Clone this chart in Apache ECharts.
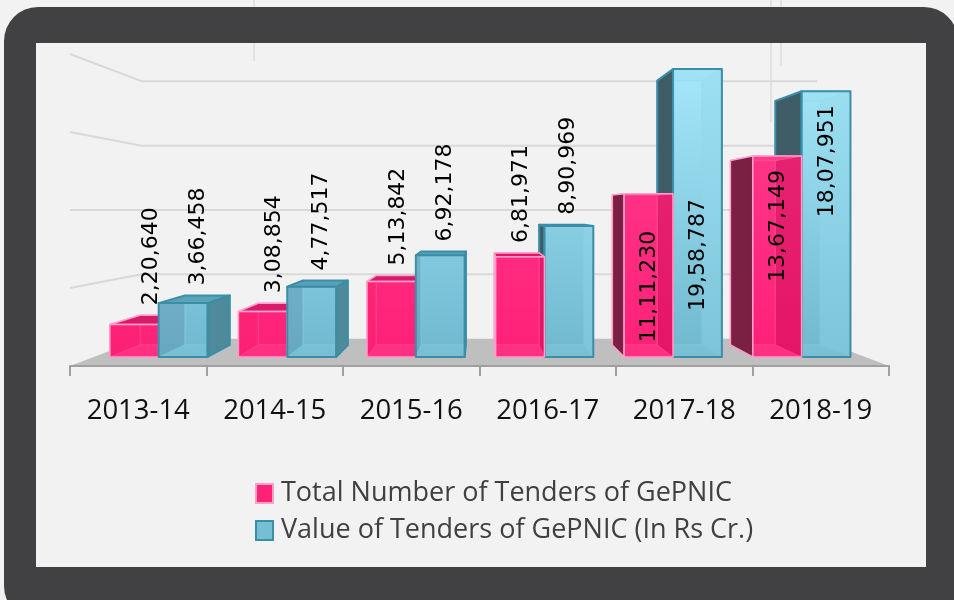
<!DOCTYPE html>
<html><head><meta charset="utf-8">
<script src="https://cdn.jsdelivr.net/npm/echarts@6/dist/echarts.min.js"></script>
<style>html,body{margin:0;padding:0;background:#f2f2f2}#c{width:954px;height:600px}</style>
</head><body><div id="c"></div>
<script>
// ---- data ----
const categories = ['2013-14', '2014-15', '2015-16', '2016-17', '2017-18', '2018-19'];
const tenderCounts = [220640, 308854, 513842, 681971, 1111230, 1367149];
const tenderValues = [366458, 477517, 692178, 890969, 1958787, 1807951];
const valueTicks = [0, 500000, 1000000, 1500000, 2000000];
const seriesNames = ['Total Number of Tenders of GePNIC', 'Value of Tenders of GePNIC (In Rs Cr.)'];

// ---- view / style constants ----
const HORIZON = 1000000;           // value whose gridline looks level (eye height)
const S_BAR_FRONT = 0.942, S_BAR_BACK = 0.865, S_WALL = 0.825;
const GAP = 0.125, BAR_W = 0.38;
const INSIDE_THRESHOLD = 1000000;
const labelNudge = [{4: 23}, {4: 116}];

function fmtIN(n) {
  const s = String(Math.round(n));
  if (s.length <= 3) return s;
  const last = s.slice(-3), rest = s.slice(0, -3);
  return rest.replace(/\B(?=(\d{2})+(?!\d))/g, ',') + ',' + last;
}

const PAL = [
  { frontTop: 'rgba(255,62,142,0.6)', frontBot: 'rgba(255,30,118,0.6)',
    backTop: '#ff3d8c', backBot: '#ff2379',
    hiddenL: '#f8226f', hiddenR: '#c0064f', hiddenB: '#ff4a90', hiddenT: '#ff4a90',
    sideL: '#7a2143', sideR: '#d3155f', top: '#d81a68',
    edge: '#ff9fcc', inner: 'rgba(255,110,165,0.9)', edgeW: 1.5, legend: '#ff2277' },
  { frontTop: 'rgba(166,232,251,0.6)', frontBot: 'rgba(111,184,206,0.6)',
    backTop: '#a6e8fb', backBot: '#6fb8ce',
    hiddenL: '#5e8fa6', hiddenR: '#92d6ea', hiddenB: '#86cadd', hiddenT: '#9adcef',
    sideL: '#3e5d66', sideR: '#4f8a9b', top: '#5aa2b6',
    edge: '#3a8ea8', inner: '#8fd2e5', edgeW: 2, legend: '#74bfd4' }
];

function poly(points, fill, stroke, lw, z2) {
  return { type: 'polygon', shape: { points }, style: { fill, stroke, lineWidth: lw, lineJoin: 'round' }, z2, silent: true };
}

function makeBarRender(k) {
  return function (params, api) {
    const i = api.value(0), v = api.value(1);
    const cs = params.coordSys;
    const vx = cs.x + cs.width / 2;
    const vy = api.coord([0, HORIZON])[1];
    const P = (x, y, s) => [vx + (x - vx) * s, vy + (y - vy) * s];
    const c = api.coord([i, v]), c0 = api.coord([i, 0]);
    const bw = api.size([1, 0])[0];
    const xl = c[0] - bw / 2 + bw * GAP + k * bw * BAR_W, xr = xl + bw * BAR_W;
    const yT = c[1], yB = c0[1];
    const fLT = P(xl, yT, S_BAR_FRONT), fRT = P(xr, yT, S_BAR_FRONT);
    const fLB = P(xl, yB, S_BAR_FRONT), fRB = P(xr, yB, S_BAR_FRONT);
    const bLT = P(xl, yT, S_BAR_BACK), bRT = P(xr, yT, S_BAR_BACK);
    const bLB = P(xl, yB, S_BAR_BACK), bRB = P(xr, yB, S_BAR_BACK);
    const pal = PAL[k];
    const gy0 = P(0, api.coord([0, valueTicks[valueTicks.length - 1]])[1], S_BAR_FRONT)[1];
    const gy1 = fLB[1];
    const grad = (a, b) => new echarts.graphic.LinearGradient(0, gy0, 0, gy1, [{ offset: 0, color: a }, { offset: 1, color: b }], true);
    const leftOfEye = xr <= vx, rightOfEye = xl >= vx;
    const topVisible = yT > vy;
    const first = c[0] < vx ? 0 : 1;
    const base = k === first ? 0 : 20;
    const leftSide = [fLT, bLT, bLB, fLB], rightSide = [fRT, bRT, bRB, fRB];
    const topFace = [fLT, fRT, bRT, bLT];
    const ch = [];
    ch.push(poly([bLT, bRT, bRB, bLB], grad(pal.backTop, pal.backBot), pal.inner, 1, base + 1));
    ch.push(poly([fLB, fRB, bRB, bLB], pal.hiddenB, pal.inner, 1, base + 2));
    if (!rightOfEye) ch.push(poly(leftSide, pal.hiddenL, pal.inner, 1, base + 3));
    if (!leftOfEye) ch.push(poly(rightSide, pal.hiddenR, pal.inner, 1, base + 3));
    if (!topVisible) ch.push(poly(topFace, pal.hiddenT, pal.inner, 1, base + 3));
    if (rightOfEye) ch.push(poly(leftSide, pal.sideL, pal.edge, pal.edgeW, base + 5));
    if (leftOfEye) ch.push(poly(rightSide, pal.sideR, pal.edge, pal.edgeW, base + 5));
    if (topVisible) ch.push(poly(topFace, pal.top, pal.edge, pal.edgeW, base + 6));
    ch.push(poly([fLT, fRT, fRB, fLB], grad(pal.frontTop, pal.frontBot), pal.edge, pal.edgeW, base + 7));
    // label
    let lx, ly, align;
    if (v > INSIDE_THRESHOLD) {
      lx = (fLT[0] + fRT[0]) / 2 + 1; ly = fLT[1] + 14 + (labelNudge[k][i] || 0); align = 'right';
    } else {
      lx = (fLT[0] + fRT[0] + bLT[0] + bRT[0]) / 4 + 3; ly = Math.min(fLT[1], bLT[1]) - 10; align = 'left';
    }
    ch.push({ type: 'text', x: lx, y: ly, rotation: Math.PI / 2, silent: true, z2: 100,
      style: { text: fmtIN(v), fill: '#000', fontSize: 22, fontFamily: 'DejaVu Sans', align, verticalAlign: 'middle' } });
    return { type: 'group', children: ch };
  };
}

function renderWall(params, api) {
  const v = api.value(1);
  const cs = params.coordSys;
  const vx = cs.x + cs.width / 2, vy = api.coord([0, HORIZON])[1];
  const P = (p, s) => [vx + (p[0] - vx) * s, vy + (p[1] - vy) * s];
  const y = api.coord([0, v])[1];
  const fl = [cs.x, y], fr = [cs.x + cs.width, y];
  const bl = P(fl, S_WALL), br = P(fr, S_WALL);
  if (v === 0) return { type: 'polygon', shape: { points: [fl, fr, br, bl] }, style: { fill: '#bfbfbf' }, silent: true };
  return { type: 'polyline', shape: { points: [fl, bl, br] }, style: { stroke: '#d9d9d9', lineWidth: 2, fill: null }, silent: true };
}

const chart = echarts.init(document.getElementById('c'), null, { renderer: 'canvas' });
const barData = [tenderCounts, tenderValues];
chart.setOption({
  animation: false,
  backgroundColor: '#f2f2f2',
  graphic: [
    { type: 'rect', z: -10, silent: true, shape: { x: 4, y: 7, width: 954, height: 613, r: 34 }, style: { fill: '#414143' } },
    { type: 'rect', z: -9, silent: true, shape: { x: 36, y: 43, width: 890, height: 524 }, style: { fill: '#f2f2f2' } },
    { type: 'line', z: -8, silent: true, shape: { x1: 254, y1: 0, x2: 254, y2: 7 }, style: { stroke: '#dcdcdc', lineWidth: 1.5 } },
    { type: 'line', z: -8, silent: true, shape: { x1: 254, y1: 43, x2: 254, y2: 61 }, style: { stroke: '#dcdcdc', lineWidth: 1.5 } },
    { type: 'line', z: -8, silent: true, shape: { x1: 771, y1: 0, x2: 771, y2: 7 }, style: { stroke: '#dcdcdc', lineWidth: 1.5 } },
    { type: 'line', z: -8, silent: true, shape: { x1: 771, y1: 43, x2: 771, y2: 122 }, style: { stroke: '#dcdcdc', lineWidth: 1.5 } },
    { type: 'line', z: -8, silent: true, shape: { x1: 781, y1: 0, x2: 781, y2: 7 }, style: { stroke: '#dcdcdc', lineWidth: 1.5 } },
    { type: 'line', z: -8, silent: true, shape: { x1: 781, y1: 43, x2: 781, y2: 66 }, style: { stroke: '#dcdcdc', lineWidth: 1.5 } }
  ],
  grid: { left: 70, right: 65, top: 54, bottom: 234 },
  xAxis: {
    type: 'category', data: categories, z: 5, boundaryGap: true,
    axisLine: { show: true, lineStyle: { color: '#a0a0a0', width: 2 } },
    axisTick: { show: true, interval: 0, alignWithLabel: false, inside: false, length: 10, lineStyle: { color: '#a0a0a0', width: 2 } },
    axisLabel: { interval: 0, fontFamily: 'Open Sans', fontSize: 27.5, color: '#111', margin: 31, lineHeight: 28 }
  },
  yAxis: { type: 'value', min: valueTicks[0], max: valueTicks[valueTicks.length - 1], interval: 500000, show: false, splitLine: { show: false } },
  legend: {
    orient: 'vertical', left: 250, top: 475, itemWidth: 17, itemHeight: 19, itemGap: 10,
    selectedMode: false,
    textStyle: { fontFamily: 'Open Sans', fontSize: 27, color: '#404040', padding: [0, 0, 0, 3] },
    data: seriesNames.map((n, k) => ({ name: n, icon: 'rect', itemStyle: { color: PAL[k].legend, borderColor: PAL[k].edge, borderWidth: 2 } }))
  },
  series: [
    { type: 'custom', name: 'walls', z: 1, silent: true, renderItem: renderWall,
      data: valueTicks.map(v => [0, v]), encode: { x: 0, y: 1 } },
    ...seriesNames.map((n, k) => ({
      type: 'custom', name: n, z: 2, silent: true, renderItem: makeBarRender(k),
      itemStyle: { color: PAL[k].legend },
      data: categories.map((c, i) => [i, barData[k][i]]), encode: { x: 0, y: 1 }
    }))
  ]
});
</script>
</body></html>
